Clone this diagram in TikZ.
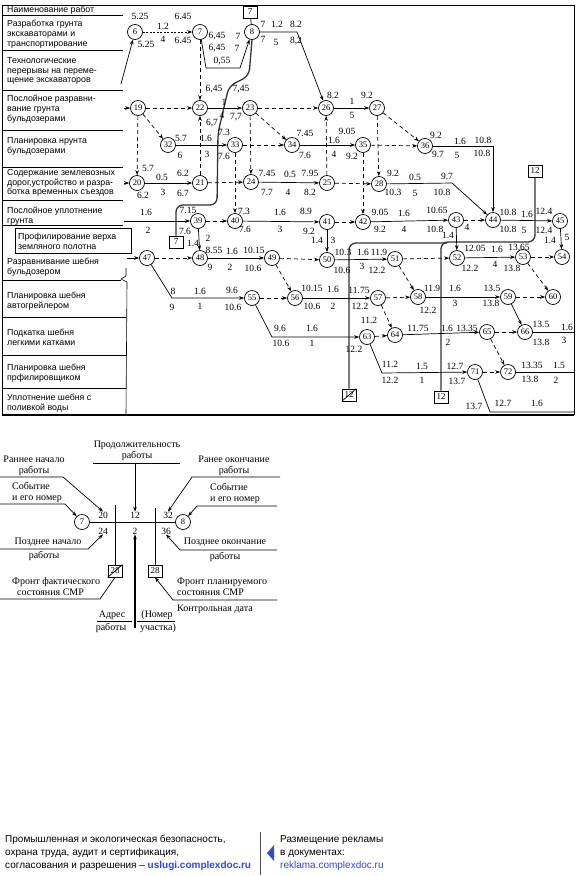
\documentclass[tikz,border=0pt]{standalone}
\usepackage{fontspec}
\setmainfont{Liberation Serif}
\newfontfamily\tabfont{Liberation Sans}
\usetikzlibrary{arrows.meta}
\definecolor{lnk}{RGB}{45,75,215}
\newcounter{lc}
\newcommand\nlab[2]{\stepcounter{lc}\node[lbl] (lb\arabic{lc}) at (#1) {#2};}
\begin{document}
\begin{tikzpicture}[x=1pt,y=-1pt,
  ev/.style={circle,draw,line width=0.7pt,inner sep=0pt,minimum size=15pt,font=\fontsize{8.5}{9}\selectfont,fill=white},
  lbl/.style={inner sep=0pt,font=\fontsize{9.5}{10}\selectfont},
  arr/.style={-{Stealth[length=5pt,width=3.6pt]}},
  job/.style={line width=0.7pt,arr},
  dum/.style={job,dash pattern=on 4pt off 3pt},
  ln/.style={line width=0.7pt},
  front/.style={line width=1.3pt,black!80,rounded corners=7pt},
  fbox/.style={draw,line width=0.7pt,minimum width=14pt,minimum height=12pt,inner sep=0pt,font=\fontsize{9}{10}\selectfont,fill=white},
  rowtxt/.style={anchor=west,align=left,inner sep=0pt,font=\tabfont\fontsize{8.8}{9.8}\selectfont},
  tline/.style={line width=0.6pt},
  leg/.style={inner sep=0pt,align=center,font=\fontsize{10}{11}\selectfont},
  legl/.style={leg,align=left,anchor=west},
  foot/.style={anchor=west,align=left,inner sep=0pt,font=\tabfont\fontsize{10}{12.8}\selectfont},
]
\useasboundingbox (0,0) rectangle (576,876);
\fill[white] (0,0) rectangle (576,876);

% ---------- table frame ----------
\draw[line width=0.8pt] (2,5) -- (574,5) -- (574,415);
\draw[line width=1.2pt] (2,415) -- (574,415);
\draw[tline] (2,5) -- (2,415);
\foreach \yy in {15,50,90,130,167,200,225} \draw[tline] (2,\yy) -- (123,\yy);
\draw[tline] (2,280) -- (121,280);
\foreach \yy in {317,355,388} \draw[tline] (2,\yy) -- (126,\yy);
\draw[tline] (126,268) -- (126,276) -- (121,279) -- (127,282) -- (126,415);

\node[rowtxt] (t0) at (7,10) {Наименование работ};
\node[rowtxt] (t1) at (7,34) {Разработка грунта\\экскаваторами и\\транспортирование};
\node[rowtxt] (t2) at (7,71) {Технологические\\перерывы на переме-\\щение экскаваторов};
\node[rowtxt] (t3) at (7,109) {Послойное разравни-\\вание грунта\\бульдозерами};
\node[rowtxt] (t4) at (7,146) {Планировка нрунта\\бульдозерами};
\node[rowtxt] (t5) at (7,183) {Содержание землевозных\\дорог,устройство и разра-\\ботка временных съездов};
\node[rowtxt] (t6) at (7,216) {Послойное уплотнение\\грунта};
\draw[ln,fill=white] (15,228) rectangle (131,253);
\node[rowtxt] (t7) at (18,241) {Профилирование верха\\земляного полотна};
\node[rowtxt] (t8) at (7,267) {Разравнивание шебня\\бульдозером};
\node[rowtxt] (t9) at (7,301) {Планировка шебня\\автогрейлером};
\node[rowtxt] (t10) at (7,337) {Подкатка шебня\\легкими катками};
\node[rowtxt] (t11) at (7,373) {Планировка шебня\\прфилировщиком};
\node[rowtxt] (t12) at (7,403) {Уплотнение шебня с\\ поливкой воды};

% ---------- events ----------
\node[ev] (e6) at (135,32) {6};
\node[ev] (e7) at (200,32) {7};
\node[ev] (e8) at (252,32) {8};
\node[ev] (e19) at (138,108) {19};
\node[ev] (e22) at (200,108) {22};
\node[ev] (e23) at (250,108) {23};
\node[ev] (e26) at (326,108) {26};
\node[ev] (e27) at (377,108) {27};
\node[ev] (e32) at (168,145) {32};
\node[ev] (e33) at (235,145) {33};
\node[ev] (e34) at (292,145) {34};
\node[ev] (e35) at (363,145) {35};
\node[ev] (e36) at (425,146) {36};
\node[ev] (e20) at (137,183) {20};
\node[ev] (e21) at (200,183) {21};
\node[ev] (e24) at (251,182) {24};
\node[ev] (e25) at (327,183) {25};
\node[ev] (e28) at (379,184) {28};
\node[ev] (e39) at (198,221) {39};
\node[ev] (e40) at (235,221) {40};
\node[ev] (e41) at (327,222) {41};
\node[ev] (e42) at (363,222) {42};
\node[ev] (e43) at (456,220) {43};
\node[ev] (e44) at (493,220) {44};
\node[ev] (e45) at (560,221) {45};
\node[ev] (e47) at (147,258) {47};
\node[ev] (e48) at (200,258) {48};
\node[ev] (e49) at (272,258) {49};
\node[ev] (e50) at (327,260) {50};
\node[ev] (e51) at (395,259) {51};
\node[ev] (e52) at (457,258) {52};
\node[ev] (e53) at (523,257) {53};
\node[ev] (e54) at (562,257) {54};
\node[ev] (e55) at (252,298) {55};
\node[ev] (e56) at (295,298) {56};
\node[ev] (e57) at (378,298) {57};
\node[ev] (e58) at (418,297) {58};
\node[ev] (e59) at (508,297) {59};
\node[ev] (e60) at (553,297) {60};
\node[ev] (e63) at (367,337) {63};
\node[ev] (e64) at (395,335) {64};
\node[ev] (e65) at (487,332) {65};
\node[ev] (e66) at (525,332) {66};
\node[ev] (e71) at (475,372) {71};
\node[ev] (e72) at (508,372) {72};

% ---------- front boxes ----------
\node[fbox] (b7t) at (250,12) {7};
\node[fbox] (b7) at (176,242) {7};
\node[fbox] (b12r) at (535,171) {12};
\node[fbox] (b12b) at (441,397) {12};
\node[fbox] (b12x) at (349,395) {12};
\draw[ln] (b12x.south west) -- (b12x.north east);

% ---------- front lines ----------
\draw[front] (e8.south) -- (249,76) -- (229,86) -- (218,133) -- (217,205) -- (176,205) -- (b7.north);
\draw[front] (b12r.south) -- (535,242) -- (441,242) -- (b12b.north);
\draw[front] (b12x.north) -- (349,243) -- (447,243);

% ---------- connectors ----------
\coordinate (in6) at (121,84);
\draw[job] (in6) -- (e6);
\draw[job,dash pattern=on 2pt off 1.5pt] (e6) -- (e7);
\draw[job] (e7) -- (206,68) -- (240,68) -- (e8);
\draw[ln] (b7t) -- (e8);
\draw[job] (e8) -- (297,32) -- (e26);
\draw[dum] (e7) -- (e22);
\coordinate (in19) at (124,108); \draw[job] (in19) -- (e19);
\draw[dum] (e19) -- (e22);
\draw[dum] (e19) -- (e32);
\draw[dum] (e19) -- (e20);
\draw[job] (e22) -- (e23);
\draw[dum] (e23) -- (e26);
\draw[dum] (e23) -- (e34);
\draw[dum] (e23) -- (e24);
\draw[dum] (e21) -- (e22);
\draw[job] (e26) -- (e27);
\draw[dum] (e27) -- (e36);
\draw[dum] (e27) -- (e28);
\draw[dum] (e25) -- (e26);
\draw[job] (e32) -- (e33);
\draw[dum] (e33) -- (e34);
\draw[dum] (e33) -- (e40);
\draw[job] (e34) -- (e35);
\draw[dum] (e35) -- (e36);
\draw[dum] (e35) -- (e42);
\draw[job] (e36) -| (e44);
\coordinate (in20) at (124,183); \draw[job] (in20) -- (e20);
\draw[job] (e20) -- (e21);
\draw[dum] (e21) -- (e24);
\draw[job] (e24) -- (e25);
\draw[dum] (e25) -- (e28);
\draw[job] (e28) -- (452,183) -- (e44);
\coordinate (in39) at (124,221); \draw[job] (in39) -- (e39);
\draw[dum] (e39) -- (e40);
\draw[job] (e39) -- (e48);
\draw[job] (e40) -- (e41);
\draw[dum] (e41) -- (e42);
\draw[job] (e41) -- (e50);
\draw[job] (e42) -- (e43);
\draw[dum] (e43) -- (e44);
\draw[job] (e43) -- (e52);
\draw[job] (e44) -- (e45);
\draw[job] (e45) -- (e54);
\coordinate (in47) at (127,258); \draw[job] (in47) -- (e47);
\draw[dum] (e47) -- (e48);
\draw[job] (e47) -- (172,298) -- (e55);
\draw[job] (e48) -- (e49);
\draw[dum] (e49) -- (e50);
\draw[dum] (e49) -- (e56);
\draw[job] (e50) -- (e51);
\draw[dum] (e51) -- (e52);
\draw[dum] (e51) -- (e58);
\draw[job] (e52) -- (e53);
\draw[dum] (e53) -- (e54);
\draw[dum] (e53) -- (e60);
\draw[dum] (e55) -- (e56);
\draw[job] (e55) -- (272,337) -- (e63);
\draw[job] (e56) -- (e57);
\draw[dum] (e57) -- (e58);
\draw[dum] (e57) -- (e64);
\draw[job] (e58) -- (e59);
\draw[dum] (e59) -- (e60);
\draw[job] (e59) -- (e66);
\draw[dum] (e63) -- (e64);
\draw[job] (e63) -- (382,373) -- (e71);
\draw[job] (e64) -- (e65);
\draw[dum] (e65) -- (e66);
\draw[dum] (e65) -- (e72);
\coordinate (out66) at (574,332); \draw[ln] (e66) -- (out66);
\draw[dum] (e71) -- (e72);
\coordinate (out71) at (574,412); \draw[ln] (e71) -- (490,412) -- (out71);
\coordinate (out72) at (574,372); \draw[ln] (e72) -- (out72);

% ---------- labels ----------
\nlab{140,16}{5.25} \nlab{146,44}{5.25} \nlab{163,26}{1.2} \nlab{163,39}{4} \nlab{183,16}{6.45} \nlab{183,40}{6.45}
\nlab{217,36}{6,45} \nlab{238,36}{7} \nlab{217,48}{6,45} \nlab{237,48}{7} \nlab{222,61}{0,55}
\nlab{263,24}{7} \nlab{277,24}{1.2} \nlab{296,24}{8.2} \nlab{263,39}{7} \nlab{276,42}{5} \nlab{296,41}{8,2}

\nlab{214,89}{6,45} \nlab{241,89}{7,45} \nlab{224,102}{1} \nlab{222,115}{4} \nlab{236,117}{7,7} \nlab{212,123}{6,7}
\nlab{333,95}{8.2} \nlab{352,101}{1} \nlab{352,115}{5} \nlab{367,95}{9.2}

\nlab{181,138}{5.7} \nlab{180,155}{6} \nlab{206,138}{1.6} \nlab{207,154}{3} \nlab{224,132}{7.3} \nlab{224,156}{7.6}
\nlab{305,133}{7.45} \nlab{305,155}{7.6} \nlab{334,140}{1.6} \nlab{334,154}{4} \nlab{347,131}{9.05} \nlab{352,156}{9.2}
\nlab{436,135}{9.2} \nlab{438,154}{9.7} \nlab{460,141}{1.6} \nlab{457,155}{5} \nlab{483,140}{10.8} \nlab{482,153}{10.8}

\nlab{148,168}{5.7} \nlab{143,195}{6.2} \nlab{162,177}{0.5} \nlab{183,173}{6.2} \nlab{163,192}{3} \nlab{183,193}{6.7}
\nlab{267,173}{7.45} \nlab{290,174}{0.5} \nlab{310,173}{7.95} \nlab{267,192}{7.7} \nlab{288,192}{4} \nlab{310,192}{8.2}
\nlab{393,173}{9.2} \nlab{415,177}{0.5} \nlab{447,176}{9.7} \nlab{393,192}{10.3} \nlab{415,193}{5} \nlab{442,192}{10.8}

\nlab{146,212}{1.6} \nlab{148,230}{2} \nlab{188,210}{7.15} \nlab{185,231}{7.6}
\nlab{193,243}{1.4} \nlab{208,238}{2}
\nlab{244,211}{7.3} \nlab{280,212}{1.6} \nlab{306,211}{8.9} \nlab{245,229}{7.6} \nlab{280,229}{3} \nlab{309,231}{9.2}
\nlab{317,240}{1.4} \nlab{333,240}{3}
\nlab{380,212}{9.05} \nlab{404,213}{1.6} \nlab{437,210}{10.65} \nlab{380,229}{9.2} \nlab{404,229}{4} \nlab{435,229}{10.8}
\nlab{448,235}{1.4} \nlab{467,227}{4}
\nlab{508,212}{10.8} \nlab{527,214}{1.6} \nlab{544,211}{12.4} \nlab{508,229}{10.8} \nlab{524,230}{5} \nlab{544,230}{12.4}
\nlab{550,240}{1.4} \nlab{567,237}{5}

\nlab{214,250}{8.55} \nlab{232,251}{1.6} \nlab{254,250}{10.15} \nlab{210,267}{9} \nlab{230,267}{2} \nlab{253,268}{10.6}
\nlab{343,252}{10.3} \nlab{342,270}{10.6}
\nlab{363,252}{1.6} \nlab{379,252}{11.9} \nlab{362,266}{3} \nlab{377,270}{12.2}
\nlab{475,248}{12.05} \nlab{497,249}{1.6} \nlab{519,247}{13.65} \nlab{470,268}{12.2} \nlab{495,264}{4} \nlab{512,268}{13.8}

\nlab{173,291}{8} \nlab{172,307}{9} \nlab{200,291}{1.6} \nlab{200,306}{1} \nlab{232,290}{9.6} \nlab{233,307}{10.6}
\nlab{312,288}{10.15} \nlab{333,289}{1.6} \nlab{312,306}{10.6} \nlab{333,306}{2} \nlab{359,290}{11.75} \nlab{360,306}{12.2}
\nlab{432,288}{11.9} \nlab{428,310}{12.2} \nlab{455,288}{1.6} \nlab{455,303}{3} \nlab{492,288}{13.5} \nlab{491,303}{13.8}

\nlab{280,328}{9.6} \nlab{312,328}{1.6} \nlab{281,343}{10.6} \nlab{312,343}{1}
\nlab{369,320}{11.2} \nlab{354,349}{12.2}
\nlab{418,328}{11.75} \nlab{447,328}{1.6} \nlab{467,328}{13.35} \nlab{448,342}{2}
\nlab{541,324}{13.5} \nlab{541,342}{13.8} \nlab{567,327}{1.6} \nlab{564,340}{3}

\nlab{390,364}{11.2} \nlab{390,380}{12.2} \nlab{422,366}{1.5} \nlab{422,380}{1} \nlab{455,366}{12.7} \nlab{457,381}{13.7}
\nlab{532,365}{13.35} \nlab{559,365}{1.5} \nlab{530,379}{13.8} \nlab{556,380}{2}
\nlab{474,406}{13.7} \nlab{503,403}{12.7} \nlab{537,403}{1.6}

% ---------- legend ----------
\node[ev] (l7) at (82,522) {7};
\node[ev] (l8) at (183,522) {8};
\draw[ln] (l7) -- (l8);
\node[fbox] (lbx) at (115,571) {28};
\node[fbox] (lbp) at (155,571) {28};
\draw[ln] (lbx.south west) -- (lbx.north east);
\coordinate (lv1) at (115,505); \draw[ln] (lv1) -- (lbx);
\coordinate (lv2) at (155,508); \draw[ln] (lv2) -- (lbp);
\node[lbl] (L20) at (103,515) {20};
\node[lbl] (L24) at (103,531) {24};
\node[lbl] (L12) at (135,515) {12};
\node[lbl] (L2) at (135,531) {2};
\node[lbl] (L32) at (168,515) {32};
\node[lbl] (L36) at (166,531) {36};

\node[leg] (tdur) at (137,451) {Продолжительность\\работы};
\coordinate (du1) at (93,463); \coordinate (du2) at (180,463);
\draw[ln] (du1) -- (du2);
\coordinate (du3) at (135,463);
\draw[job] (du3) -- (L12.north);

\node[leg] (tes) at (34,466) {Раннее начало\\работы};
\coordinate (es1) at (0,477);
\draw[job] (es1) -- (63,477) -- (L20.north);

\node[legl] (tev1) at (12,492) {Событие\\и его номер};
\coordinate (ev1) at (0,504);
\draw[job] (ev1) -- (65,504) -- (l7);

\node[leg] (tef) at (234,466) {Ранее окончание\\работы};
\coordinate (ef1) at (280,477);
\draw[job] (ef1) -- (192,477) -- (L32.north);

\node[legl] (tev2) at (210,493) {Событие\\и его номер};
\coordinate (ev2) at (277,506);
\draw[job] (ev2) -- (197,506) -- (l8);

\node[leg] (tls1) at (48,542) {Позднее начало};
\node[leg] (tls2) at (44,556) {работы};
\coordinate (ls1) at (0,549);
\draw[job] (ls1) -- (88,549) -- (L24.south);

\node[leg] (tlf1) at (225,542) {Позднее окончание};
\node[leg] (tlf2) at (225,557) {работы};
\coordinate (lf1) at (277,550);
\draw[job] (lf1) -- (180,550) -- (L36.south);

\node[legl] (tff) at (12,587) {Фронт фактического\\\ \ состояния СМР};
\coordinate (ff1) at (0,599);
\draw[ln] (ff1) -- (100,599) -- (lbx.south);

\node[legl] (tfp) at (177,587) {Фронт планируемого\\состояния СМР};
\coordinate (fp1) at (277,600);
\draw[job] (fp1) -- (173,600) -- (lbp.south);
\node[legl] (tcd) at (177,609) {Контрольная дата};

\coordinate (aup) at (135,628);
\draw[job,line width=1.2pt] (aup) -- (L2.south);

\node[leg] (tad1) at (112,615) {Адрес};
\node[leg] (tad2) at (111,628) {работы};
\coordinate (ad1) at (97,621); \coordinate (ad2) at (132,621);
\draw[ln] (ad1) -- (ad2);
\node[leg] (tnu1) at (157,615) {(Номер};
\node[leg] (tnu2) at (158,628) {участка)};
\coordinate (nu1) at (137,621); \coordinate (nu2) at (175,621);
\draw[ln] (nu1) -- (nu2);

% ---------- footer ----------
\node[foot] (f1) at (5,853) {Промышленная и экологическая безопасность,\\охрана труда, аудит и сертификация,\\согласования и разрешения – \textcolor{lnk}{\textbf{uslugi.complexdoc.ru}}};
\coordinate (vs1) at (260,832); \coordinate (vs2) at (260,875);
\draw[line width=0.8pt,black!70] (vs1) -- (vs2);
\fill[lnk] (267,853) -- (274,845) -- (274,861) -- cycle;
\node[foot] (f2) at (280,853) {Размещение рекламы\\в документах:\\\textcolor{lnk}{reklama.complexdoc.ru}};
\end{tikzpicture}
\end{document}
